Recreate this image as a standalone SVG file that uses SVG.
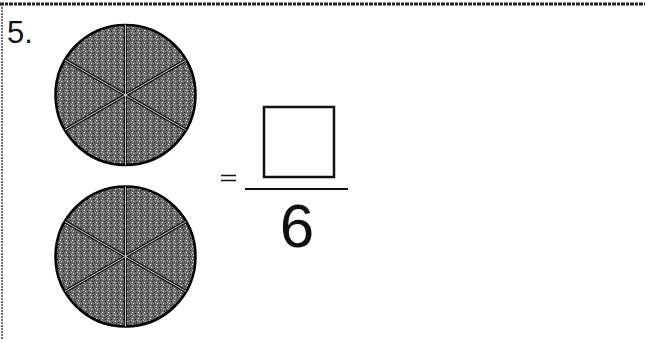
<svg xmlns="http://www.w3.org/2000/svg" width="645" height="339" viewBox="0 0 645 339">
<style>
.pie{stroke:#000;stroke-width:2.5}
.sp{stroke:#111;stroke-width:3.2;fill:none}
.sp2{stroke:#d0d0d0;stroke-width:1;fill:none}
.num{font-family:"Liberation Sans",Arial,sans-serif;fill:#111}
</style>
<defs>
<pattern id="noise" width="6" height="6" patternUnits="userSpaceOnUse">
<rect width="6" height="6" fill="#6a6a6a"/>
<rect x="0" y="0" width="1" height="1" fill="#fff"/>
<rect x="3" y="1" width="1" height="1" fill="#111"/>
<rect x="1" y="3" width="1" height="1" fill="#ddd"/>
<rect x="4" y="4" width="1" height="1" fill="#222"/>
<rect x="5" y="2" width="1" height="1" fill="#bbb"/>
<rect x="2" y="5" width="1" height="1" fill="#333"/>
</pattern>
<g id="spokes">
<line x1="0" y1="-70" x2="0" y2="70"/>
<line x1="-60.6" y1="-35" x2="60.6" y2="35"/>
<line x1="-60.6" y1="35" x2="60.6" y2="-35"/>
</g>
</defs>
<rect width="645" height="339" fill="#fff"/>
<g id="border">
<line x1="0" y1="4" x2="645" y2="4" stroke="#222" stroke-width="3" stroke-dasharray="4 1 3 1"/>
<line x1="2" y1="4" x2="2" y2="339" stroke="#444" stroke-width="1.5" stroke-dasharray="2 1"/>
</g>
<g id="label"><text class="num" x="7" y="43" font-size="31">5.</text></g>
<g id="circle-top">
<circle cx="125.5" cy="95" r="70" class="pie" style="fill:url(#noise)"/>
<use href="#spokes" x="125.5" y="95" class="sp"/>
<use href="#spokes" x="125.5" y="95" class="sp2"/>
</g>
<g id="circle-bottom">
<circle cx="125.5" cy="256.5" r="70" class="pie" style="fill:url(#noise)"/>
<use href="#spokes" x="125.5" y="256.5" class="sp"/>
<use href="#spokes" x="125.5" y="256.5" class="sp2"/>
</g>
<g id="equals">
<line x1="221" y1="175.5" x2="236" y2="175.5" stroke="#111" stroke-width="1.5"/>
<line x1="221" y1="180.5" x2="236" y2="180.5" stroke="#111" stroke-width="1.5"/>
</g>
<g id="fraction">
<rect x="264" y="107" width="70" height="70" fill="none" stroke="#111" stroke-width="2.5"/>
<line x1="245" y1="189" x2="348" y2="189" stroke="#111" stroke-width="2"/>
<text class="num" x="297" y="247" font-size="62" text-anchor="middle">6</text>
</g>
</svg>
